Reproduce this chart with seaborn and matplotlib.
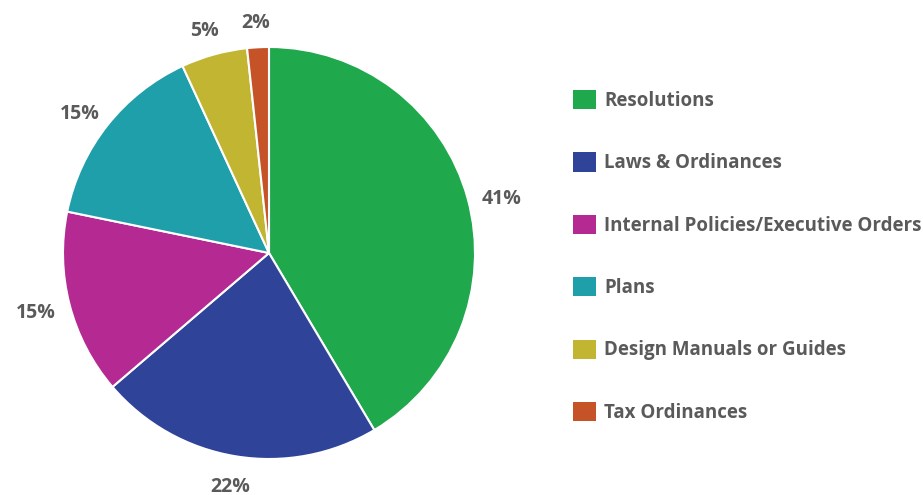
import matplotlib
matplotlib.use('Agg')
import matplotlib.pyplot as plt
import matplotlib.patches as mpatches
import seaborn as sns

categories = ['Resolutions', 'Laws & Ordinances', 'Internal Policies/Executive Orders',
              'Plans', 'Design Manuals or Guides', 'Tax Ordinances']
shares = [41.5, 22.3, 14.5, 14.9, 5.2, 1.7]
pct_labels = ['41%', '22%', '15%', '15%', '5%', '2%']
colors = ['#1FA84C', '#2F4499', '#B52A92', '#1F9FA9', '#C2B532', '#C55327']

sns.set_style('white')
plt.rcParams['font.family'] = ['Open Sans', 'DejaVu Sans']
text_color = '#5a5a5a'

fig = plt.figure(figsize=(9.23, 4.95), dpi=100)
ax = fig.add_axes([63 / 923, 36 / 495, 412 / 923, 412 / 495])

it = iter(pct_labels)
wedges, texts, autotexts = ax.pie(shares, colors=colors, startangle=90, counterclock=False,
                                  autopct=lambda p: next(it), pctdistance=1.17,
                                  wedgeprops=dict(edgecolor='white', linewidth=1.5))
for t in autotexts:
    t.set_color(text_color)
    t.set_fontsize(14)
    t.set_fontweight('bold')
    x, y = t.get_position()
    # labels in the upper half sit a little lower in the original
    if y > 0:
        t.set_position((x, y - 0.05))
    elif y < -0.9:
        t.set_position((x, y + 0.02))
ax.set_aspect('equal')
ax.set_xlim(-1, 1)
ax.set_ylim(-1, 1)
ax.axis('off')

handles = [mpatches.Patch(facecolor=c, edgecolor='none') for c in colors]
leg = fig.legend(handles, categories, loc='upper left', bbox_to_anchor=(573 / 923, 1 - 90 / 495),
                 frameon=False, fontsize=13.5, handlelength=1.2, handleheight=1.2,
                 handletextpad=0.45, labelspacing=2.21, borderaxespad=0, borderpad=0)
for t in leg.get_texts():
    t.set_color(text_color)
    t.set_fontweight('bold')

fig.savefig('out.png', dpi=100)
